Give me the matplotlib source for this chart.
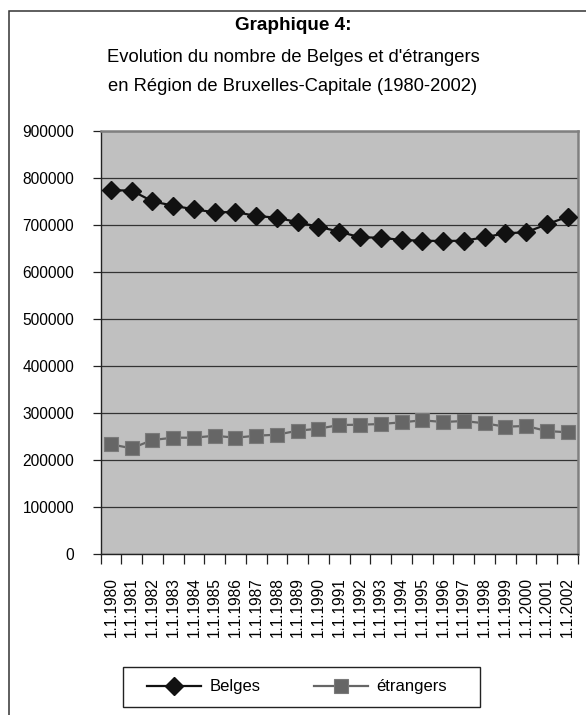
import numpy as np
import matplotlib
matplotlib.use("Agg")
import matplotlib.pyplot as plt
from matplotlib.patches import Rectangle

# population au 1er janvier, Region de Bruxelles-Capitale
years = list(range(1980, 2003))
labels = ["1.1.%d" % y for y in years]
belges = [774500, 774000, 751000, 741700, 734000, 727600, 728300, 719800,
          716200, 706400, 697000, 686400, 674500, 673600, 668700, 667200,
          666600, 667200, 674500, 683000, 685100, 702100, 718300]
etrangers = [234000, 225500, 243200, 248100, 248100, 252300, 248100, 252300,
             254500, 263000, 267200, 275100, 275700, 277200, 280800, 285100,
             281500, 283600, 278700, 271500, 273000, 262300, 259600]
yticks = list(range(0, 900001, 100000))

plt.rcParams["font.family"] = ["Liberation Sans", "DejaVu Sans"]

fig = plt.figure(figsize=(5.86, 7.15), dpi=100)
W, H = 586, 715

# cadre exterieur
fig.patches.append(Rectangle((9 / W, -0.1), 1.2, 1 - 10.5 / H + 0.1,
                             transform=fig.transFigure, fill=False,
                             edgecolor="#333333", linewidth=1.1))

fig.text(0.5, 1 - 30 / H, "Graphique 4:", ha="center", va="baseline",
         fontsize=13.6, fontweight="bold")
fig.text(0.5, 1 - 62 / H, "Evolution du nombre de Belges et d'étrangers",
         ha="center", va="baseline", fontsize=13.2)
fig.text(0.5, 1 - 91 / H, "en Région de Bruxelles-Capitale (1980-2002)",
         ha="center", va="baseline", fontsize=13.2)

ax = fig.add_axes([100.5 / W, 1 - 554.3 / H, 477.5 / W, 423 / H])
ax.set_facecolor("#c0c0c0")
x = np.arange(len(years))

ax.plot(x, belges, color="#111111", linewidth=1.6, marker="D",
        markersize=9.5, markerfacecolor="#111111", markeredgecolor="#111111",
        label="Belges", zorder=3)
ax.plot(x, etrangers, color="#666666", linewidth=1.6, marker="s",
        markersize=10.5, markerfacecolor="#666666", markeredgecolor="#7a7a7a",
        markeredgewidth=0.8, label="étrangers", zorder=3)

ax.set_xlim(-0.5, len(years) - 0.5)
ax.set_ylim(0, 900000)
ax.set_yticks(yticks)
ax.set_yticklabels([str(v) for v in yticks], fontsize=11.2)
ax.yaxis.grid(True, color="#333333", linewidth=0.9)
ax.set_axisbelow(True)
ax.tick_params(axis="y", length=6, width=0.9, pad=13, color="#222222")

ax.set_xticks(x)
ax.set_xticklabels(labels, rotation=90, fontsize=11.2, va="top")
ax.set_xticks(np.arange(-0.5, len(years)), minor=True)
ax.tick_params(axis="x", which="major", length=0, pad=16.5)
ax.tick_params(axis="x", which="minor", length=7, width=0.9, color="#222222")

for side in ("left", "bottom"):
    ax.spines[side].set_color("#222222")
    ax.spines[side].set_linewidth(1.0)
for side in ("top", "right"):
    ax.spines[side].set_color("#808080")
    ax.spines[side].set_linewidth(1.8)

# legende sans cadre, le cadre est dessine a part
fig.legend(loc="center", bbox_to_anchor=(297 / W, 1 - 687 / H),
           ncol=2, fontsize=12, frameon=False,
           handlelength=3.25, columnspacing=3.2, handletextpad=0.5)
fig.patches.append(Rectangle((123 / W, 1 - 707 / H), 357 / W, 40 / H,
                             transform=fig.transFigure, fill=False,
                             edgecolor="#222222", linewidth=1.0))

fig.savefig("out.png", dpi=100)
